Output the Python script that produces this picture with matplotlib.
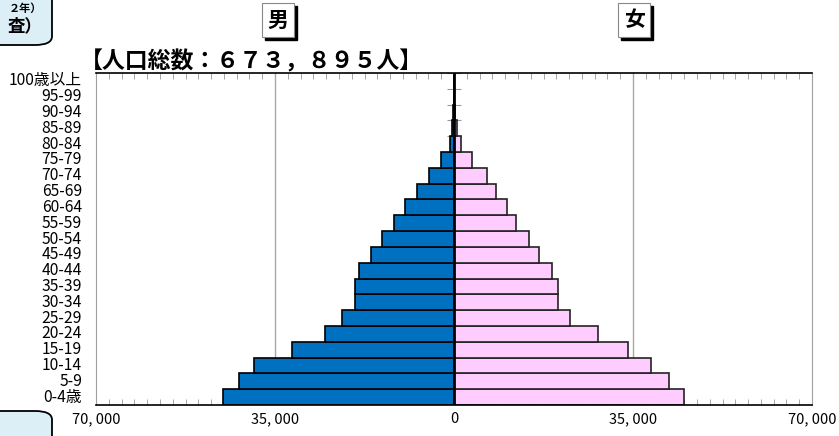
import numpy as np
import matplotlib
matplotlib.use("Agg")
import matplotlib.pyplot as plt
from matplotlib.patches import Rectangle, FancyBboxPatch
from matplotlib.ticker import MultipleLocator

plt.rcParams['font.family'] = ['Noto Sans CJK JP', 'DejaVu Sans']

# age groups, bottom to top
ages = ['0-4歳', '5-9', '10-14', '15-19', '20-24', '25-29', '30-34', '35-39',
        '40-44', '45-49', '50-54', '55-59', '60-64', '65-69', '70-74', '75-79',
        '80-84', '85-89', '90-94', '95-99', '100歳以上']
male = [45100, 42000, 39100, 31600, 25200, 21900, 19400, 19300, 18650, 16150,
        14000, 11700, 9500, 7300, 4900, 2450, 850, 400, 150, 40, 5]
female = [45000, 42000, 38500, 34000, 28200, 22700, 20300, 20400, 19100, 16550,
          14600, 12100, 10400, 8300, 6500, 3550, 1350, 550, 200, 60, 10]
xticks = [-70000, -35000, 0, 35000, 70000]
xticklabels = ['70, 000', '35, 000', '0', '35, 000', '70, 000']
title = '【人口総数：６７３，８９５人】'

W, H = 839, 436
fig = plt.figure(figsize=(W / 100, H / 100), dpi=100)
ax = fig.add_axes([96 / W, 1 - 405 / H, (812 - 96) / W, (405 - 73) / H])

y = np.arange(len(ages))
male_arr = np.array(male)
female_arr = np.array(female)

# gridlines at +-35,000
for gx in (-35000, 35000):
    ax.axvline(gx, color='#a8a8a8', lw=1, zorder=0)

# small category ticks across the centre line
ax.hlines(y + 0.5, -1300, 1300, color='#999999', lw=0.8, zorder=1)

ax.barh(y, -male_arr, height=1.0, color='#0070C0', edgecolor='black', lw=1.2, zorder=2)
ax.barh(y, female_arr, height=1.0, color='#FFCCFF', edgecolor='#222222', lw=1.2, zorder=2)
ax.axvline(0, color='black', lw=2, zorder=3)

ax.set_xlim(-70000, 70000)
ax.set_ylim(-0.5, len(ages) - 0.5)
ax.set_xticks(xticks)
ax.set_xticklabels(xticklabels, fontsize=10.5)
ax.xaxis.set_minor_locator(MultipleLocator(2500))
ax.tick_params(axis='x', which='major', length=0, pad=5)
ax.tick_params(axis='x', which='minor', direction='in', length=4, color='#999999',
               top=True, bottom=True)
ax.set_yticks(y)
ax.set_yticklabels(ages, fontsize=11.3)
ax.tick_params(axis='y', length=0, pad=10)
for lab in ax.get_yticklabels():
    lab.set_verticalalignment('center')

ax.spines['top'].set_color('black')
ax.spines['bottom'].set_color('black')
ax.spines['top'].set_linewidth(1.2)
ax.spines['bottom'].set_linewidth(1.2)
ax.spines['left'].set_color('#a0a0a0')
ax.spines['right'].set_color('#a0a0a0')

# title
fig.text(80 / W, 1 - 62 / H, title, fontsize=16.5, fontweight='bold',
         ha='left', va='center')


def sex_box(cx, cy, ch):
    bw, bh = 32, 34
    x0, y0 = cx - bw / 2, cy - bh / 2
    fig.patches.append(Rectangle(((x0 + 3) / W, 1 - (y0 + bh + 3) / H), bw / W, bh / H,
                                 transform=fig.transFigure, facecolor='black',
                                 edgecolor='black', zorder=1))
    fig.patches.append(Rectangle((x0 / W, 1 - (y0 + bh) / H), bw / W, bh / H,
                                 transform=fig.transFigure, facecolor='white',
                                 edgecolor='#888888', lw=0.8, zorder=2))
    fig.text(cx / W, 1 - cy / H, ch, fontsize=15, fontweight='bold',
             ha='center', va='center', zorder=3)


sex_box(278, 20, '男')
sex_box(634, 20, '女')

# side boxes from the page, cut off by the chart edge
fig.patches.append(FancyBboxPatch((-40 / W, 1 - 45 / H), 92 / W, 80 / H,
                                  boxstyle='round,pad=0,rounding_size=0.02',
                                  transform=fig.transFigure, facecolor='#DCEEF6',
                                  edgecolor='black', lw=1.3))
fig.text(42 / W, 1 - 8 / H, '２年）', fontsize=8, fontweight='bold',
         ha='right', va='center')
fig.text(42 / W, 1 - 26 / H, '査）', fontsize=12.5, fontweight='bold',
         ha='right', va='center')
fig.patches.append(FancyBboxPatch((-40 / W, -40 / H), 92 / W, 65 / H,
                                  boxstyle='round,pad=0,rounding_size=0.02',
                                  transform=fig.transFigure, facecolor='#DCEEF6',
                                  edgecolor='black', lw=1.3))

fig.savefig('out.png', dpi=100)
